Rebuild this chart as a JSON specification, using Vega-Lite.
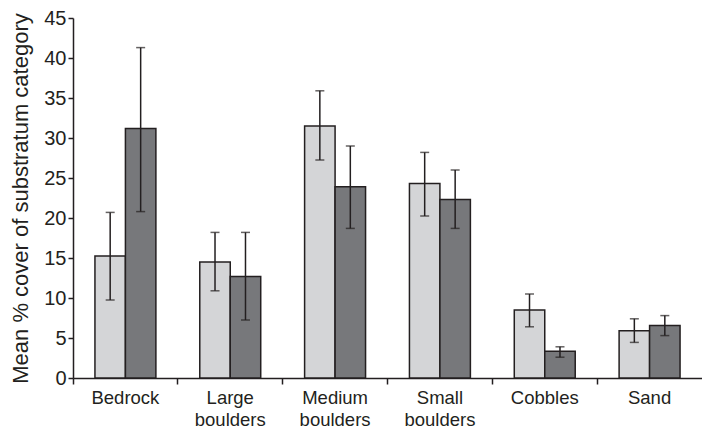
{
  "$schema": "https://vega.github.io/schema/vega-lite/v6.json",
  "width": 629,
  "height": 360,
  "autosize": {"type": "none"},
  "padding": {"left": 73, "top": 18, "right": 0, "bottom": 56},
  "background": "white",
  "config": {
    "view": {"stroke": null},
    "font": "Liberation Sans",
    "axis": {
      "labelFont": "Liberation Sans",
      "titleFont": "Liberation Sans",
      "labelColor": "#231f20",
      "titleColor": "#231f20",
      "domainColor": "#231f20",
      "tickColor": "#231f20",
      "domainWidth": 1.5,
      "tickWidth": 1.5,
      "grid": false
    },
    "axisY": {
      "titleFontSize": 22,
      "titleFontWeight": "normal",
      "titlePadding": 11,
      "labelFontSize": 20,
      "labelOverlap": false,
      "tickSize": 5,
      "labelPadding": 2
    }
  },
  "data": {
    "values": [
      {"cat": "Bedrock", "grp": "A", "mean": 15.25, "lo": 9.75, "hi": 20.7},
      {"cat": "Bedrock", "grp": "B", "mean": 31.2, "lo": 20.8, "hi": 41.3},
      {"cat": "Large boulders", "grp": "A", "mean": 14.5, "lo": 10.9, "hi": 18.2},
      {"cat": "Large boulders", "grp": "B", "mean": 12.7, "lo": 7.25, "hi": 18.2},
      {"cat": "Medium boulders", "grp": "A", "mean": 31.5, "lo": 27.25, "hi": 35.9},
      {"cat": "Medium boulders", "grp": "B", "mean": 23.9, "lo": 18.7, "hi": 29.0},
      {"cat": "Small boulders", "grp": "A", "mean": 24.3, "lo": 20.25, "hi": 28.2},
      {"cat": "Small boulders", "grp": "B", "mean": 22.3, "lo": 18.7, "hi": 26.0},
      {"cat": "Cobbles", "grp": "A", "mean": 8.5, "lo": 6.4, "hi": 10.5},
      {"cat": "Cobbles", "grp": "B", "mean": 3.35, "lo": 2.6, "hi": 3.9},
      {"cat": "Sand", "grp": "A", "mean": 5.9, "lo": 4.45, "hi": 7.4},
      {"cat": "Sand", "grp": "B", "mean": 6.55, "lo": 5.3, "hi": 7.8}
    ]
  },
  "encoding": {
    "x": {
      "field": "cat",
      "type": "nominal",
      "sort": null,
      "scale": {"paddingInner": 0, "paddingOuter": 0},
      "axis": {
        "title": null,
        "labelAngle": 0,
        "labelFontSize": 18.5,
        "labelPadding": 4,
        "labelLineHeight": 22,
        "labelExpr": "split(datum.label, ' ')",
        "bandPosition": 0,
        "tickSize": 6
      }
    },
    "xOffset": {
      "field": "grp",
      "type": "nominal",
      "scale": {"paddingInner": 0, "paddingOuter": 0.72}
    }
  },
  "layer": [
    {
      "mark": {"type": "bar", "stroke": "#231f20", "strokeWidth": 1.5},
      "encoding": {
        "y": {
          "field": "mean",
          "type": "quantitative",
          "scale": {"domain": [0, 45], "nice": false},
          "axis": {"title": "Mean % cover of substratum category", "values": [0, 5, 10, 15, 20, 25, 30, 35, 40, 45]}
        },
        "color": {
          "field": "grp",
          "type": "nominal",
          "scale": {"domain": ["A", "B"], "range": ["#d4d5d7", "#77787b"]},
          "legend": null
        }
      }
    },
    {
      "mark": {"type": "rule", "color": "#231f20", "strokeWidth": 1.5},
      "encoding": {
        "y": {"field": "lo", "type": "quantitative", "axis": {"title": "Mean % cover of substratum category", "values": [0, 5, 10, 15, 20, 25, 30, 35, 40, 45]}},
        "y2": {"field": "hi"}
      }
    },
    {
      "mark": {"type": "tick", "color": "#231f20", "thickness": 1.5, "size": 9, "orient": "horizontal"},
      "encoding": {"y": {"field": "lo", "type": "quantitative", "axis": {"title": "Mean % cover of substratum category", "values": [0, 5, 10, 15, 20, 25, 30, 35, 40, 45]}}}
    },
    {
      "mark": {"type": "tick", "color": "#231f20", "thickness": 1.5, "size": 9, "orient": "horizontal"},
      "encoding": {"y": {"field": "hi", "type": "quantitative", "axis": {"title": "Mean % cover of substratum category", "values": [0, 5, 10, 15, 20, 25, 30, 35, 40, 45]}}}
    }
  ]
}
